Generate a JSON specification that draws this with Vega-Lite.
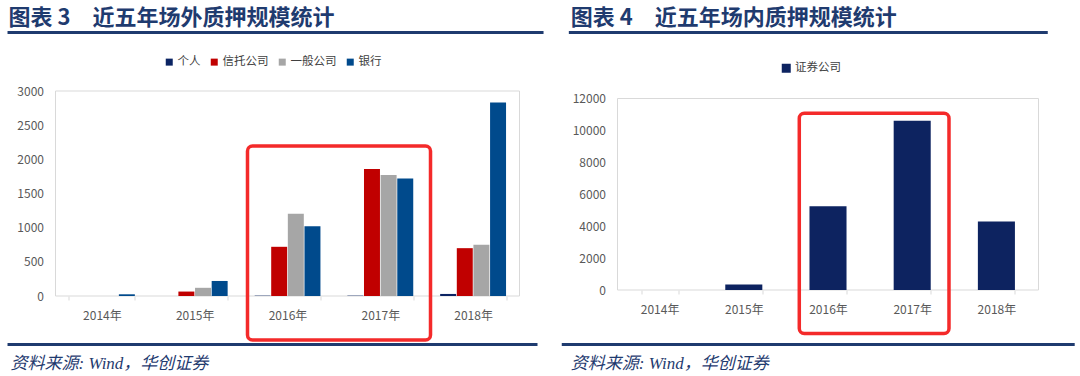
{
  "$schema": "https://vega.github.io/schema/vega-lite/v6.json",
  "background": "white",
  "padding": {"left": 5.5, "top": 6, "right": 0, "bottom": 0},
  "spacing": 14,
  "config": {
    "view": {"stroke": null},
    "font": "Noto Sans CJK SC"
  },
  "datasets": {
    "offsite": [
      {"year": "2014年", "type": "个人", "value": 0},
      {"year": "2014年", "type": "信托公司", "value": 0},
      {"year": "2014年", "type": "一般公司", "value": 0},
      {"year": "2014年", "type": "银行", "value": 25},
      {"year": "2015年", "type": "个人", "value": 0},
      {"year": "2015年", "type": "信托公司", "value": 65},
      {"year": "2015年", "type": "一般公司", "value": 120},
      {"year": "2015年", "type": "银行", "value": 220},
      {"year": "2016年", "type": "个人", "value": 5},
      {"year": "2016年", "type": "信托公司", "value": 720},
      {"year": "2016年", "type": "一般公司", "value": 1205},
      {"year": "2016年", "type": "银行", "value": 1020},
      {"year": "2017年", "type": "个人", "value": 5},
      {"year": "2017年", "type": "信托公司", "value": 1860},
      {"year": "2017年", "type": "一般公司", "value": 1770},
      {"year": "2017年", "type": "银行", "value": 1720},
      {"year": "2018年", "type": "个人", "value": 30},
      {"year": "2018年", "type": "信托公司", "value": 700},
      {"year": "2018年", "type": "一般公司", "value": 750},
      {"year": "2018年", "type": "银行", "value": 2830}
    ],
    "onsite": [
      {"year": "2014年", "type": "证券公司", "value": 0},
      {"year": "2015年", "type": "证券公司", "value": 350},
      {"year": "2016年", "type": "证券公司", "value": 5250},
      {"year": "2017年", "type": "证券公司", "value": 10600},
      {"year": "2018年", "type": "证券公司", "value": 4300}
    ]
  },
  "resolve": {"scale": {"x": "independent", "y": "independent", "color": "independent", "xOffset": "independent"}, "legend": {"color": "independent"}},
  "hconcat": [
    {
      "width": 464,
      "height": 205,
      "resolve": {"scale": {"x": "independent"}},
      "layer": [
        {
          "data": {"values": [{"frame": "plot"}]},
          "mark": {"type": "rect", "fill": null, "filled": false, "stroke": "#D9D9D9", "strokeWidth": 1},
          "encoding": {
            "x": {"datum": 0, "type": "quantitative", "scale": {"domain": [0, 5], "nice": false, "zero": false}, "axis": null},
            "x2": {"datum": 5},
            "y": {"datum": 0, "type": "quantitative", "scale": {"domain": [0, 3000], "nice": false},
              "axis": {"title": null, "domain": false, "ticks": false, "grid": false, "values": [0, 500, 1000, 1500, 2000, 2500, 3000], "format": "d", "labelPadding": 12, "labelFontSize": 12, "labelColor": "#595959"}},
            "y2": {"datum": 3000}
          }
        },
        {
          "data": {"name": "offsite"},
          "mark": {"type": "bar"},
          "encoding": {
            "x": {"field": "year", "type": "nominal", "sort": null,
              "scale": {"paddingInner": 0.29, "paddingOuter": 0.145},
              "axis": {"title": null, "domain": false, "ticks": true, "tickBand": "extent", "tickColor": "#D9D9D9", "tickSize": 4, "labelPadding": 10, "labelFontSize": 12, "labelColor": "#595959", "labelAngle": 0}},
            "xOffset": {"field": "type", "type": "nominal", "sort": ["个人", "信托公司", "一般公司", "银行"],
              "scale": {"domain": ["个人", "信托公司", "一般公司", "银行"], "paddingInner": 0.04}},
            "y": {"field": "value", "type": "quantitative",
              "scale": {"domain": [0, 3000], "nice": false},
              "axis": {"title": null, "domain": false, "ticks": false, "grid": false, "values": [0, 500, 1000, 1500, 2000, 2500, 3000], "format": "d", "labelPadding": 12, "labelFontSize": 12, "labelColor": "#595959"}},
            "color": {"field": "type", "type": "nominal",
              "scale": {"domain": ["个人", "信托公司", "一般公司", "银行"], "range": ["#0B2463", "#C00000", "#A6A6A6", "#004A8C"]},
              "legend": {"orient": "none", "legendX": 108, "legendY": -35, "direction": "horizontal", "title": null, "symbolType": "square", "symbolSize": 49, "symbolStrokeWidth": 0, "labelFontSize": 11.5, "labelColor": "#404040", "columnPadding": 8, "labelOffset": 2.5, "padding": 0}}
          }
        },
        {
          "data": {"values": [{"highlight": "2016-2017"}]},
          "mark": {"type": "rect", "fill": null, "filled": false, "stroke": "#F42A2A", "strokeWidth": 3.5, "cornerRadius": 5},
          "encoding": {
            "x": {"datum": 2.069, "type": "quantitative", "scale": {"domain": [0, 5], "nice": false, "zero": false}, "axis": null},
            "x2": {"datum": 4.041},
            "y": {"datum": 2195, "type": "quantitative", "scale": {"domain": [0, 3000], "nice": false},
              "axis": {"title": null, "domain": false, "ticks": false, "grid": false, "values": [0, 500, 1000, 1500, 2000, 2500, 3000], "format": "d", "labelPadding": 12, "labelFontSize": 12, "labelColor": "#595959"}},
            "y2": {"datum": -644}
          }
        },
        {
          "data": {"values": [{"line": "header"}]},
          "mark": {"type": "rule", "stroke": "#1F3B6F", "strokeWidth": 3},
          "encoding": {
            "x": {"datum": -0.517, "type": "quantitative", "scale": {"domain": [0, 5], "nice": false, "zero": false}, "axis": null},
            "x2": {"datum": 5.259},
            "y": {"datum": 3856, "type": "quantitative", "scale": {"domain": [0, 3000], "nice": false},
              "axis": {"title": null, "domain": false, "ticks": false, "grid": false, "values": [0, 500, 1000, 1500, 2000, 2500, 3000], "format": "d", "labelPadding": 12, "labelFontSize": 12, "labelColor": "#595959"}}
          }
        },
        {
          "data": {"values": [{"line": "footer"}]},
          "mark": {"type": "rule", "stroke": "#1F3B6F", "strokeWidth": 3},
          "encoding": {
            "x": {"datum": -0.517, "type": "quantitative", "scale": {"domain": [0, 5], "nice": false, "zero": false}, "axis": null},
            "x2": {"datum": 5.194},
            "y": {"datum": -710, "type": "quantitative", "scale": {"domain": [0, 3000], "nice": false},
              "axis": {"title": null, "domain": false, "ticks": false, "grid": false, "values": [0, 500, 1000, 1500, 2000, 2500, 3000], "format": "d", "labelPadding": 12, "labelFontSize": 12, "labelColor": "#595959"}}
          }
        },
        {
          "data": {"values": [{"t": "图表 3　近五年场外质押规模统计"}]},
          "mark": {"type": "text", "align": "left", "baseline": "middle", "fontSize": 22, "fontWeight": "bold", "fill": "#1F3B6F", "font": "Noto Sans CJK SC"},
          "encoding": {
            "x": {"datum": -0.506, "type": "quantitative", "scale": {"domain": [0, 5], "nice": false, "zero": false}, "axis": null},
            "y": {"datum": 4068, "type": "quantitative", "scale": {"domain": [0, 3000], "nice": false},
              "axis": {"title": null, "domain": false, "ticks": false, "grid": false, "values": [0, 500, 1000, 1500, 2000, 2500, 3000], "format": "d", "labelPadding": 12, "labelFontSize": 12, "labelColor": "#595959"}},
            "text": {"field": "t"}
          }
        },
        {
          "data": {"values": [{"t": "资料来源: Wind，华创证券"}]},
          "mark": {"type": "text", "align": "left", "baseline": "middle", "fontSize": 17, "fontStyle": "italic", "fill": "#1F3B6F", "font": "Liberation Serif, Noto Sans CJK SC"},
          "encoding": {
            "x": {"datum": -0.485, "type": "quantitative", "scale": {"domain": [0, 5], "nice": false, "zero": false}, "axis": null},
            "y": {"datum": -995, "type": "quantitative", "scale": {"domain": [0, 3000], "nice": false},
              "axis": {"title": null, "domain": false, "ticks": false, "grid": false, "values": [0, 500, 1000, 1500, 2000, 2500, 3000], "format": "d", "labelPadding": 12, "labelFontSize": 12, "labelColor": "#595959"}},
            "text": {"field": "t"}
          }
        }
      ]
    },
    {
      "width": 421,
      "height": 199,
      "resolve": {"scale": {"x": "independent"}},
      "layer": [
        {
          "data": {"values": [{"frame": "plot"}]},
          "mark": {"type": "rect", "fill": null, "filled": false, "stroke": "#D9D9D9", "strokeWidth": 1},
          "encoding": {
            "x": {"datum": 0, "type": "quantitative", "scale": {"domain": [0, 5], "nice": false, "zero": false}, "axis": null},
            "x2": {"datum": 5},
            "y": {"datum": 0, "type": "quantitative", "scale": {"domain": [0, 12470], "nice": false},
              "axis": {"title": null, "domain": false, "ticks": false, "grid": false, "values": [0, 2000, 4000, 6000, 8000, 10000, 12000], "format": "d", "labelPadding": 12, "labelFontSize": 12, "labelColor": "#595959"}},
            "y2": {"datum": 12000}
          }
        },
        {
          "data": {"name": "onsite"},
          "mark": {"type": "bar"},
          "encoding": {
            "x": {"field": "year", "type": "nominal", "sort": null,
              "scale": {"paddingInner": 0.56, "paddingOuter": 0.28},
              "axis": {"title": null, "domain": false, "ticks": true, "tickBand": "extent", "tickColor": "#D9D9D9", "tickSize": 4, "labelPadding": 10, "labelFontSize": 12, "labelColor": "#595959", "labelAngle": 0}},
            "y": {"field": "value", "type": "quantitative",
              "scale": {"domain": [0, 12470], "nice": false},
              "axis": {"title": null, "domain": false, "ticks": false, "grid": false, "values": [0, 2000, 4000, 6000, 8000, 10000, 12000], "format": "d", "labelPadding": 12, "labelFontSize": 12, "labelColor": "#595959"}},
            "color": {"field": "type", "type": "nominal",
              "scale": {"domain": ["证券公司"], "range": ["#0D2360"]},
              "legend": {"orient": "none", "legendX": 163, "legendY": -28.5, "direction": "horizontal", "title": null, "symbolType": "square", "symbolSize": 81, "symbolStrokeWidth": 0, "labelFontSize": 11.5, "labelColor": "#404040", "labelOffset": 3, "padding": 0}}
          }
        },
        {
          "data": {"values": [{"highlight": "2016-2017"}]},
          "mark": {"type": "rect", "fill": null, "filled": false, "stroke": "#F42A2A", "strokeWidth": 3.5, "cornerRadius": 5},
          "encoding": {
            "x": {"datum": 2.159, "type": "quantitative", "scale": {"domain": [0, 5], "nice": false, "zero": false}, "axis": null},
            "x2": {"datum": 3.937},
            "y": {"datum": 11073, "type": "quantitative", "scale": {"domain": [0, 12470], "nice": false},
              "axis": {"title": null, "domain": false, "ticks": false, "grid": false, "values": [0, 2000, 4000, 6000, 8000, 10000, 12000], "format": "d", "labelPadding": 12, "labelFontSize": 12, "labelColor": "#595959"}},
            "y2": {"datum": -2726}
          }
        },
        {
          "data": {"values": [{"line": "header"}]},
          "mark": {"type": "rule", "stroke": "#1F3B6F", "strokeWidth": 3},
          "encoding": {
            "x": {"datum": -0.578, "type": "quantitative", "scale": {"domain": [0, 5], "nice": false, "zero": false}, "axis": null},
            "x2": {"datum": 5.110},
            "y": {"datum": 16136, "type": "quantitative", "scale": {"domain": [0, 12470], "nice": false},
              "axis": {"title": null, "domain": false, "ticks": false, "grid": false, "values": [0, 2000, 4000, 6000, 8000, 10000, 12000], "format": "d", "labelPadding": 12, "labelFontSize": 12, "labelColor": "#595959"}}
          }
        },
        {
          "data": {"values": [{"line": "footer"}]},
          "mark": {"type": "rule", "stroke": "#1F3B6F", "strokeWidth": 3},
          "encoding": {
            "x": {"datum": -0.662, "type": "quantitative", "scale": {"domain": [0, 5], "nice": false, "zero": false}, "axis": null},
            "x2": {"datum": 5.430},
            "y": {"datum": -3415, "type": "quantitative", "scale": {"domain": [0, 12470], "nice": false},
              "axis": {"title": null, "domain": false, "ticks": false, "grid": false, "values": [0, 2000, 4000, 6000, 8000, 10000, 12000], "format": "d", "labelPadding": 12, "labelFontSize": 12, "labelColor": "#595959"}}
          }
        },
        {
          "data": {"values": [{"t": "图表 4　近五年场内质押规模统计"}]},
          "mark": {"type": "text", "align": "left", "baseline": "middle", "fontSize": 22, "fontWeight": "bold", "fill": "#1F3B6F", "font": "Noto Sans CJK SC"},
          "encoding": {
            "x": {"datum": -0.554, "type": "quantitative", "scale": {"domain": [0, 5], "nice": false, "zero": false}, "axis": null},
            "y": {"datum": 17045, "type": "quantitative", "scale": {"domain": [0, 12470], "nice": false},
              "axis": {"title": null, "domain": false, "ticks": false, "grid": false, "values": [0, 2000, 4000, 6000, 8000, 10000, 12000], "format": "d", "labelPadding": 12, "labelFontSize": 12, "labelColor": "#595959"}},
            "text": {"field": "t"}
          }
        },
        {
          "data": {"values": [{"t": "资料来源: Wind，华创证券"}]},
          "mark": {"type": "text", "align": "left", "baseline": "middle", "fontSize": 17, "fontStyle": "italic", "fill": "#1F3B6F", "font": "Liberation Serif, Noto Sans CJK SC"},
          "encoding": {
            "x": {"datum": -0.554, "type": "quantitative", "scale": {"domain": [0, 5], "nice": false, "zero": false}, "axis": null},
            "y": {"datum": -4637, "type": "quantitative", "scale": {"domain": [0, 12470], "nice": false},
              "axis": {"title": null, "domain": false, "ticks": false, "grid": false, "values": [0, 2000, 4000, 6000, 8000, 10000, 12000], "format": "d", "labelPadding": 12, "labelFontSize": 12, "labelColor": "#595959"}},
            "text": {"field": "t"}
          }
        }
      ]
    }
  ]
}
